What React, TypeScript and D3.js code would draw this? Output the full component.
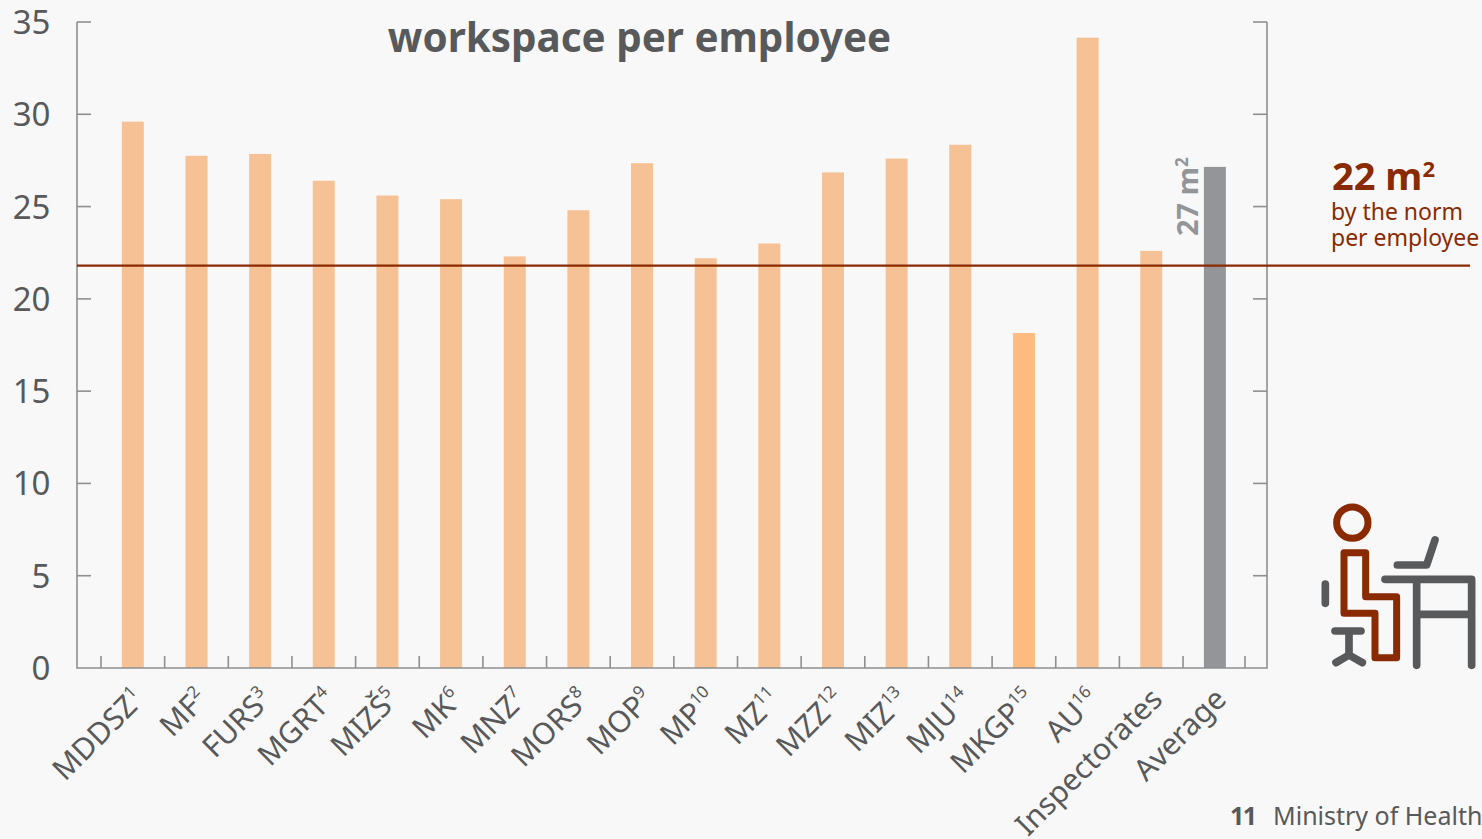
import React from 'react';
import * as d3 from 'd3';

const width = 1482;
const height = 839;
const fontFamily = '"Noto Sans", sans-serif';

const categories = ['MDDSZ', 'MF', 'FURS', 'MGRT', 'MIZŠ', 'MK', 'MNZ', 'MORS', 'MOP', 'MP', 'MZ', 'MZZ', 'MIZ', 'MJU', 'MKGP', 'AU', 'Inspectorates', 'Average'];
const footnotes = ['1', '2', '3', '4', '5', '6', '7', '8', '9', '10', '11', '12', '13', '14', '15', '16', '', ''];
const values = [29.6, 27.75, 27.85, 26.4, 25.6, 25.4, 22.3, 24.8, 27.35, 22.2, 23.0, 26.85, 27.6, 28.35, 18.15, 34.15, 22.6, 27.15];
const yTicks = [0, 5, 10, 15, 20, 25, 30, 35];
const normLineValue = 21.8;

const textColor = '#58595b';
const axisColor = '#8f8f8f';
const normColor = '#8a2a00';

const barColor = (name: string) => {
  if (name === 'Average') return '#939598';
  if (name === 'MKGP') return '#fdbb80';
  return '#f5c195';
};

export default function App() {
  const x = d3.scaleBand<string>().domain(categories).range([101, 1246.7]);
  const y = d3.scaleLinear().domain([0, 35]).range([668, 22]);
  const barWidth = 22;
  // the last tick sits a little short of the band's end in the original
  const tickX = [...categories.map((c) => x(c) as number), 1245];

  return (
    <svg
      width={width}
      height={height}
      style={{ position: 'absolute', left: 0, top: 0, background: '#f8f8f8', fontFamily }}
    >
      {/* bars */}
      {categories.map((c, i) => (
        <rect
          key={c}
          x={(x(c) as number) + x.bandwidth() / 2 - barWidth / 2}
          y={y(values[i])}
          width={barWidth}
          height={y(0) - y(values[i])}
          fill={barColor(c)}
        />
      ))}

      {/* frame and ticks */}
      <g stroke={axisColor} strokeWidth={1.6} fill="none">
        <path d={`M77,${y(35)}V${y(0)}H1267V${y(35)}`} />
        {yTicks.slice(1).map((t) => (
          <g key={t}>
            <line x1={77} x2={91} y1={y(t)} y2={y(t)} />
            <line x1={1253} x2={1267} y1={y(t)} y2={y(t)} />
          </g>
        ))}
        {tickX.map((t) => (
          <line key={t} x1={t} x2={t} y1={y(0)} y2={y(0) - 12} />
        ))}
      </g>

      {yTicks.map((t) => (
        <text key={t} x={50.5} y={y(t) + 12} textAnchor="end" fontSize={33} fill={textColor}>
          {t}
        </text>
      ))}

      {categories.map((c, i) => (
        <text
          key={c}
          transform={`translate(${(x(c) as number) + x.bandwidth() / 2 + 13},${701}) rotate(-45)`}
          textAnchor="end"
          fontSize={30}
          fill={textColor}
        >
          {c}
          {footnotes[i] && (
            <tspan fontSize={17} dy={-12}>
              {footnotes[i]}
            </tspan>
          )}
        </text>
      ))}

      <text x={639.5} y={52} textAnchor="middle" fontSize={40.4} fontWeight={700} fill={textColor}>
        workspace per employee
      </text>

      {/* norm line */}
      <line x1={77} x2={1470} y1={y(normLineValue)} y2={y(normLineValue)} stroke={normColor} strokeWidth={2.4} />
      <text x={1332} y={190} fontSize={38} fontWeight={700} fill={normColor}>
        22 m<tspan fontSize={22} dy={-13}>2</tspan>
      </text>
      <text x={1331} y={220} fontSize={23} fill={normColor}>by the norm</text>
      <text x={1331} y={246} fontSize={23} fill={normColor}>per employee</text>

      <text transform="translate(1198,236) rotate(-90)" fontSize={29} fontWeight={700} fill="#939598">
        27 m<tspan fontSize={17} dy={-10}>2</tspan>
      </text>

      {/* icon, traced in a 3x space */}
      <g transform="translate(1280,480) scale(0.3333)" fill="none" strokeLinecap="round" strokeLinejoin="round">
        <g stroke={normColor} strokeWidth={21}>
          <circle cx={217} cy={128} r={47} />
          <path d="M192,218H257V350H350V533H285V400H192Z" />
        </g>
        <g stroke={textColor} strokeWidth={23}>
          <path d="M136,312V370" />
          <path d="M165,453H243M207,453V525M168,548L207,525L247,548" />
          <path d="M352,255H440L465,180" />
          <path d="M315,298H575V556M410,298V556M410,403H575" />
        </g>
      </g>

      <text x={1230} y={825} fontSize={25} fontWeight={700} letterSpacing={-1.5} fill={textColor}>11</text>
      <text x={1273} y={825} fontSize={25} fill={textColor}>Ministry of Health</text>
    </svg>
  );
}
